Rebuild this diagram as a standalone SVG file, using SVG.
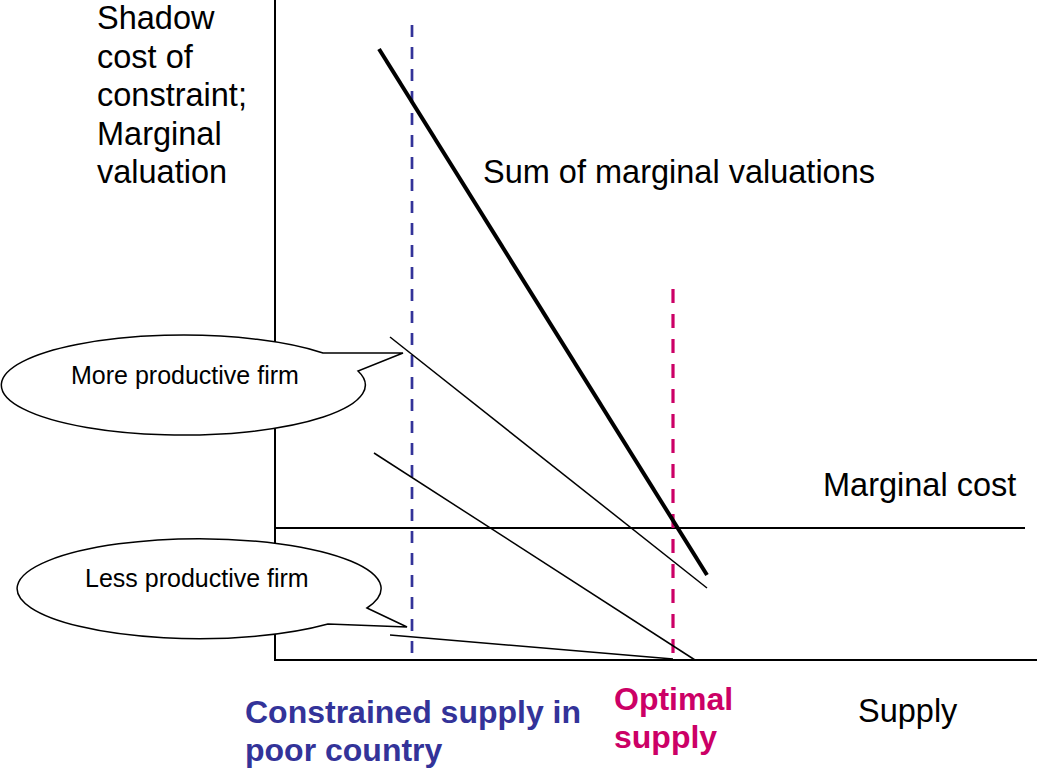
<svg xmlns="http://www.w3.org/2000/svg" width="1037" height="772" viewBox="0 0 1037 772">
<style>
.ax{stroke:#000;stroke-width:2;fill:none}
.thin{stroke:#000;stroke-width:1.5;fill:none}
.lbl{font-family:"Liberation Sans",Arial,sans-serif;font-size:32.5px;fill:#000}
.bold{font-family:"Liberation Sans",Arial,sans-serif;font-size:32px;font-weight:bold}
.call{fill:#fff;stroke:#000;stroke-width:1.5}
.ctext{font-family:"Liberation Sans",Arial,sans-serif;font-size:25px;fill:#000}
</style>
<rect width="1037" height="772" fill="#fff"/>
<g id="connectors">
<line class="ax" x1="275" y1="0" x2="275" y2="661"/>
<line class="ax" x1="274" y1="660" x2="1037" y2="660"/>
<line class="ax" x1="275" y1="528" x2="1025" y2="528"/>
<line x1="412" y1="25" x2="412" y2="660" stroke="#333399" stroke-width="2.7" stroke-dasharray="12 10"/>
<line x1="673" y1="289" x2="673" y2="660" stroke="#CC0066" stroke-width="3.2" stroke-dasharray="14 11"/>
<line x1="379" y1="49" x2="707" y2="575" stroke="#000" stroke-width="4"/>
<line class="thin" x1="390" y1="337" x2="707" y2="588"/>
<line class="thin" x1="374" y1="453" x2="695" y2="660"/>
<line class="thin" x1="390" y1="635" x2="673" y2="659"/>
</g>
<g id="callout-more">
<path class="call" d="M 323 353 L 403 353 L 358 371 A 182 50 0 1 1 323 353 Z"/>
<text class="ctext" x="71" y="384">More productive firm</text>
</g>
<g id="callout-less">
<path class="call" d="M 367 608 L 407 627 L 328 624 A 182 50 0 1 1 367 608 Z"/>
<text class="ctext" x="85" y="587">Less productive firm</text>
</g>
<g id="y-label">
<text class="lbl" x="97" y="29">Shadow</text>
<text class="lbl" x="97" y="67.5">cost of</text>
<text class="lbl" x="97" y="106">constraint;</text>
<text class="lbl" x="97" y="144.5">Marginal</text>
<text class="lbl" x="97" y="183">valuation</text>
</g>
<g id="smv-label"><text class="lbl" x="483" y="183">Sum of marginal valuations</text></g>
<g id="mc-label"><text class="lbl" x="823" y="496">Marginal cost</text></g>
<g id="supply-label"><text class="lbl" x="858" y="722">Supply</text></g>
<g id="constrained-label">
<text class="bold" fill="#333399" x="245" y="723">Constrained supply in</text>
<text class="bold" fill="#333399" x="245" y="761">poor country</text>
</g>
<g id="optimal-label">
<text class="bold" fill="#CC0066" x="614" y="710">Optimal</text>
<text class="bold" fill="#CC0066" x="614" y="748">supply</text>
</g>
</svg>
